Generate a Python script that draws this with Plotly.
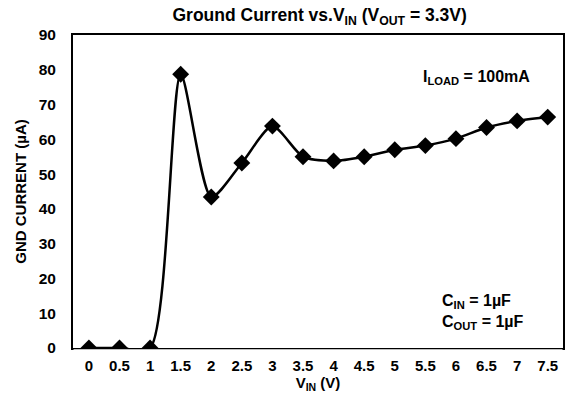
import plotly.graph_objects as go

v_in = [0, 0.5, 1, 1.5, 2, 2.5, 3, 3.5, 4, 4.5, 5, 5.5, 6, 6.5, 7, 7.5]
gnd_current = [0, 0, 0, 78.7, 43.4, 53.2, 63.8, 55.0, 53.8, 55.0, 57.0, 58.2, 60.2, 63.4, 65.3, 66.4]
x_ticks = [0, 0.5, 1, 1.5, 2, 2.5, 3, 3.5, 4, 4.5, 5, 5.5, 6, 6.5, 7, 7.5]
y_ticks = [0, 10, 20, 30, 40, 50, 60, 70, 80, 90]

FONT = "Liberation Sans, Arial, sans-serif"

fig = go.Figure()
fig.add_trace(go.Scatter(
    x=v_in, y=gnd_current, mode="lines+markers",
    line=dict(color="black", width=2.5, shape="spline", smoothing=0.7),
    marker=dict(symbol="diamond", size=13, color="black"),
    cliponaxis=True,
    showlegend=False,
))

fig.update_layout(
    width=576, height=404,
    margin=dict(l=73, r=13, t=35, b=56),
    paper_bgcolor="white", plot_bgcolor="white",
    font=dict(family=FONT, color="black", size=15, weight="bold"),
    title=dict(
        text="Ground Current vs.V<sub>IN</sub> (V<sub>OUT</sub> = 3.3V)",
        x=0.555, xanchor="center",
        y=0.962, yanchor="middle",
        font=dict(size=17.5, family=FONT, color="black", weight="bold"),
    ),
    xaxis=dict(
        range=[-0.26, 7.75], tickvals=x_ticks,
        ticktext=[str(t) for t in x_ticks],
        showgrid=False, zeroline=False,
        showline=True, linecolor="black", linewidth=2, mirror=True,
        ticks="", ticklabelstandoff=3,
        tickfont=dict(size=15, family=FONT, weight="bold"),
        title=dict(text="V<sub>IN</sub> (V)", font=dict(size=15, family=FONT, weight="bold"), standoff=4),
    ),
    yaxis=dict(
        range=[0, 90], tickvals=y_ticks,
        showgrid=False, zeroline=False,
        showline=True, linecolor="black", linewidth=2, mirror=True,
        ticks="", ticklabelstandoff=12,
        tickfont=dict(size=15.5, family=FONT, weight="bold"),
        title=dict(text="GND CURRENT (µA)", font=dict(size=15, family=FONT, weight="bold"), standoff=8),
    ),
)

# mask the lower half of markers sitting on the x axis, as in the reference
fig.add_shape(type="rect", xref="paper", yref="paper", x0=0.001, x1=0.999,
              y0=-0.004, y1=-0.035, fillcolor="white", line=dict(width=0), layer="above")

fig.add_annotation(
    text="I<sub>LOAD</sub> = 100mA", xref="paper", yref="paper",
    x=0.71, y=0.865, xanchor="left", yanchor="middle", showarrow=False,
    font=dict(size=16, family=FONT, weight="bold"),
)
fig.add_annotation(
    text="C<sub>IN</sub> = 1µF", xref="paper", yref="paper",
    x=0.748, y=0.149, xanchor="left", yanchor="middle", showarrow=False,
    font=dict(size=16, family=FONT, weight="bold"),
)
fig.add_annotation(
    text="C<sub>OUT</sub> = 1µF", xref="paper", yref="paper",
    x=0.748, y=0.08, xanchor="left", yanchor="middle", showarrow=False,
    font=dict(size=16, family=FONT, weight="bold"),
)

fig.write_html("out.html", config={"displayModeBar": False},
               post_script="document.body.style.margin='0px';")
